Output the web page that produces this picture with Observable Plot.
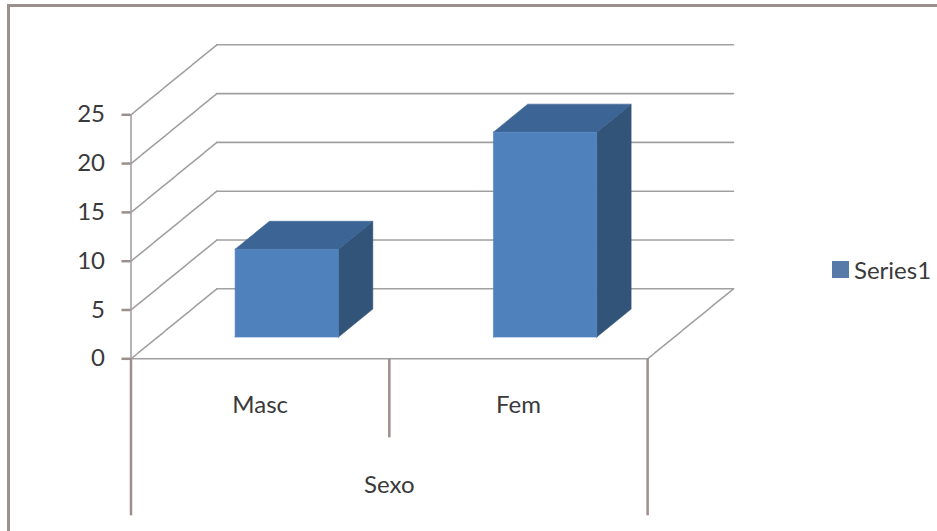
<!DOCTYPE html>
<html>
<head>
<meta charset="utf-8">
<script src="https://cdn.jsdelivr.net/npm/d3@7"></script>
<script src="https://cdn.jsdelivr.net/npm/@observablehq/plot@0.6"></script>
<style>
  html, body { margin: 0; padding: 0; background: #fff; }
  #wrap { position: relative; width: 937px; height: 531px; overflow: hidden; font-family: Lato, "Open Sans", sans-serif; }
  #border { position: absolute; left: 7px; top: 4px; width: 1000px; height: 1000px; border-top: 3px solid #9b908d; border-left: 3px solid #9b908d; box-sizing: border-box; }
  #legend { position: absolute; left: 832px; top: 255px; display: flex; align-items: center; gap: 5px; font-size: 24px; color: #3a3a3a; }
  #legend .sw { width: 17px; height: 17px; background: #577aa9; }
  #chart { position: absolute; left: 0; top: 0; }
</style>
</head>
<body>
<div id="wrap">
  <div id="border"></div>
  <div id="chart"></div>
  <div id="legend"><span class="sw"></span><span id="legtext"></span></div>
</div>
<script>
// ---- data ----
const categories = ["Masc", "Fem"];
const values = [9, 21];
const yTicks = [0, 5, 10, 15, 20, 25];
const groupLabel = "Sexo";
const seriesName = "Series1";

// ---- oblique 3D geometry (style constants) ----
const DX = 0.3324;   // depth shift in category units
const DY = 7.17;     // depth shift in value units
const barLo = 0.3, barHi = 0.7;   // bar extent within category
const zLo = 0.31, zHi = 0.71;     // bar depth extent
const n = categories.length;
const yMax = yTicks[yTicks.length - 1];
const P = (u, v, z, id) => ({x: u + z * DX, y: v + z * DY, id});

// gridlines / walls
const grid = [];
let gid = 0;
for (const t of yTicks) {
  const a = "d" + gid++;
  grid.push(P(0, t, 0, a), P(0, t, 1, a));
  const b = "b" + gid++;
  grid.push(P(0, t, 1, b), P(n, t, 1, b));
}
grid.push(P(0, 0, 0, "axis"), P(0, yMax, 0, "axis"));
grid.push(P(0, 0, 0, "floor"), P(n, 0, 0, "floor"));
grid.push(P(n, 0, 0, "floorR"), P(n, 0, 1, "floorR"));

// bar faces
const faceFront = [], faceTop = [], faceSide = [];
categories.forEach((c, i) => {
  const v = values[i], u0 = i + barLo, u1 = i + barHi;
  faceFront.push(P(u0, 0, zLo, c), P(u0, v, zLo, c), P(u1, v, zLo, c), P(u1, 0, zLo, c), P(u0, 0, zLo, c));
  faceTop.push(P(u0, v, zLo, c), P(u0, v, zHi, c), P(u1, v, zHi, c), P(u1, v, zLo, c), P(u0, v, zLo, c));
  faceSide.push(P(u1, 0, zLo, c), P(u1, v, zLo, c), P(u1, v, zHi, c), P(u1, 0, zHi, c), P(u1, 0, zLo, c));
});

const brown = "#9c8f8c";
const chart = Plot.plot({
  width: 937,
  height: 531,
  marginLeft: 130.5,
  marginRight: 204,
  marginTop: 44.3,
  marginBottom: 172.7,
  x: {domain: [0, n + DX], label: null},
  y: {domain: [0, yMax + DY], label: null},
  style: {fontFamily: "Lato, 'Open Sans', sans-serif", fontSize: "24px", color: "#3a3a3a", background: "transparent", overflow: "visible"},
  marks: [
    Plot.line(grid, {x: "x", y: "y", z: "id", stroke: "#9f9f9f", strokeWidth: 1.6, strokeDasharray: "1.2,0.8"}),
    Plot.line(faceSide, {x: "x", y: "y", z: "id", fill: "#325479", stroke: "#325479", strokeWidth: 0.6}),
    Plot.line(faceTop, {x: "x", y: "y", z: "id", fill: "#3c6494", stroke: "#3c6494", strokeWidth: 0.6}),
    Plot.line(faceFront, {x: "x", y: "y", z: "id", fill: "#4f81bd", stroke: "#4f81bd", strokeWidth: 0.6}),
    Plot.axisY(yTicks, {anchor: "left", label: null, tickSize: 9, tickPadding: 17, stroke: brown, strokeWidth: 2.5, tickFormat: d => String(d)}),
    Plot.axisX([0, n], {anchor: "bottom", label: null, tickSize: 157, stroke: brown, strokeWidth: 2.5, tickFormat: () => ""}),
    Plot.axisX([n / 2], {anchor: "bottom", label: null, tickSize: 79, stroke: brown, strokeWidth: 2.5, tickFormat: () => ""}),
    Plot.axisX(categories.map((c, i) => i + 0.5), {anchor: "bottom", label: null, tickSize: 0, tickPadding: 37, tickFormat: d => categories[Math.floor(d)]}),
    Plot.axisX([n / 2], {anchor: "bottom", label: null, tickSize: 0, tickPadding: 117, tickFormat: () => groupLabel})
  ]
});
document.getElementById("chart").appendChild(chart);
document.getElementById("legtext").textContent = seriesName;
</script>
</body>
</html>
